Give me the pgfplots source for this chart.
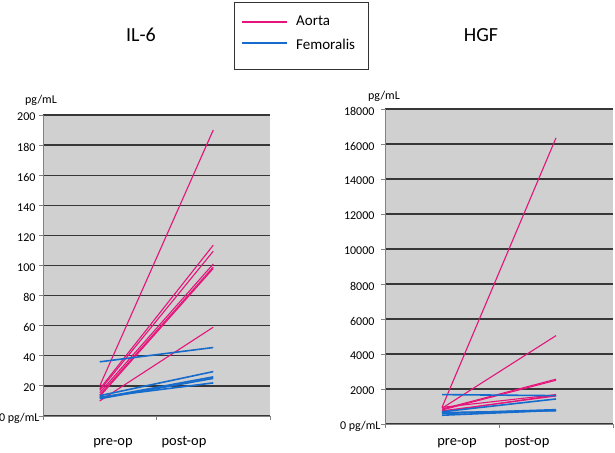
\documentclass[border=0pt]{standalone}
\usepackage{fontspec}
\setmainfont{Carlito}
\usepackage{pgfplots}
\pgfplotsset{compat=1.18}
\definecolor{aorta}{RGB}{230,20,122}
\definecolor{femo}{RGB}{22,108,204}
\definecolor{bggray}{RGB}{208,208,208}
\definecolor{gridc}{RGB}{55,55,55}
\definecolor{axc}{RGB}{130,130,130}

\pgfplotsset{
  panel/.style={
    anchor=south west, scale only axis,
    xmin=0.5, xmax=2.5, ymin=0,
    axis x line=bottom, axis y line=left,
    axis line style={-, draw=axc, line width=0.9pt},
    xtick={0.5,1.5,2.5}, xticklabels={},
    scaled y ticks=false,
    ymajorgrids, major grid style={gridc, line width=1.3pt},
    axis background/.style={fill=bggray},
    tick align=outside, major tick length=4pt,
    tick style={axc, line width=0.8pt},
    yticklabel style={font=\fontsize{12}{14}\selectfont, yshift=-2pt},
  },
  aor/.style={aorta, line width=1.1pt},
  fem/.style={femo, line width=1.6pt},
}

\begin{document}
\begin{tikzpicture}[x=1pt,y=1pt]
\useasboundingbox (0,0) rectangle (615,452);

% IL-6
\begin{axis}[panel, at={(43pt,36pt)}, width=227pt, height=301pt,
  ymax=200, ytick={0,20,...,200},
  yticklabels={0 pg/mL\kern-4pt,20,40,60,80,100,120,140,160,180,200}]
\addplot[aor] coordinates {(1,20) (2,190)};
\addplot[aor] coordinates {(1,18) (2,113.5)};
\addplot[aor] coordinates {(1,17) (2,109.5)};
\addplot[aor] coordinates {(1,15.5) (2,101)};
\addplot[aor] coordinates {(1,14) (2,99)};
\addplot[aor] coordinates {(1,13) (2,98)};
\addplot[aor] coordinates {(1,10) (2,59)};
\addplot[fem] coordinates {(1,36) (2,45.5)};
\addplot[fem] coordinates {(1,13.5) (2,29.5)};
\addplot[fem] coordinates {(1,12) (2,26)};
\addplot[fem] coordinates {(1,11.5) (2,25)};
\addplot[fem] coordinates {(1,12.5) (2,22)};
\end{axis}

% HGF
\begin{axis}[panel, at={(385pt,28pt)}, width=228pt, height=315pt,
  ymax=18000, ytick={0,2000,...,18000},
  yticklabels={0 pg/mL\kern-6pt,2000,4000,6000,8000,10000,12000,14000,16000,18000},
  yticklabel style={xshift=-3pt}]
\addplot[aor] coordinates {(1,950) (2,16350)};
\addplot[aor] coordinates {(1,900) (2,5050)};
\addplot[aor] coordinates {(1,850) (2,2560)};
\addplot[aor] coordinates {(1,800) (2,2500)};
\addplot[aor] coordinates {(1,950) (2,1680)};
\addplot[aor] coordinates {(1,700) (2,1650)};
\addplot[aor] coordinates {(1,750) (2,1600)};
\addplot[fem] coordinates {(1,1680) (2,1620)};
\addplot[fem] coordinates {(1,700) (2,1430)};
\addplot[fem] coordinates {(1,600) (2,820)};
\addplot[fem] coordinates {(1,500) (2,780)};
\addplot[fem] coordinates {(1,650) (2,760)};
\end{axis}

% titles, units and category labels
\node[font=\fontsize{20}{24}\selectfont, anchor=base] at (141,410) {IL-6};
\node[font=\fontsize{20}{24}\selectfont, anchor=base] at (481,410) {HGF};
\node[font=\fontsize{12}{14}\selectfont, anchor=base] at (41,348) {pg/mL};
\node[font=\fontsize{12}{14}\selectfont, anchor=base] at (384,352) {pg/mL};
\foreach \x/\t in {113/pre-op,184/post-op,457/pre-op,527/post-op}
  \node[font=\fontsize{14.5}{17}\selectfont, anchor=base] at (\x,6) {\t};

% legend
\draw[black!80, line width=0.9pt] (234,383) rectangle (368,450);
\draw[aorta, line width=1.8pt] (242,430) -- (287,430);
\draw[femo, line width=1.8pt] (242,409) -- (287,409);
\node[font=\fontsize{15}{18}\selectfont, anchor=base west, inner sep=0] at (296,426) {Aorta};
\node[font=\fontsize{15}{18}\selectfont, anchor=base west, inner sep=0] at (296,402) {Femoralis};
\end{tikzpicture}
\end{document}
